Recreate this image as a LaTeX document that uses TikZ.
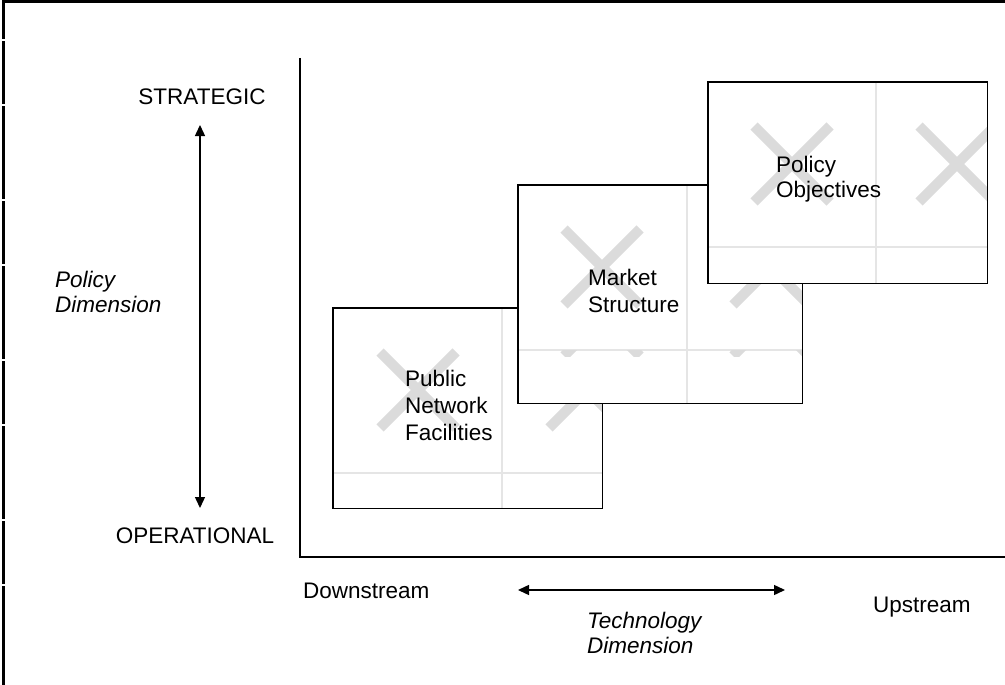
\documentclass[tikz,border=0pt]{standalone}
\usepackage{fontspec}
\setmainfont{Liberation Sans}
\usetikzlibrary{arrows.meta}

% grey cross of an empty picture frame
\newcommand{\crossmark}[1]{\draw[cross,shift={(#1)}] (-38,-38) -- (38,38) (-38,38) -- (38,-38);}

\begin{document}
\begin{tikzpicture}[x=1pt,y=-1pt]
	\tikzstyle{label}=[inner sep=0pt,font=\fontsize{22.5}{27}\selectfont,align=left]
	\tikzstyle{slanted}=[font=\fontsize{22.5}{25}\selectfont\itshape]
	\tikzstyle{panel}=[rectangle,fill=white,inner sep=0pt,anchor=north west]
	\tikzstyle{frame}=[draw=black,line width=1.8pt]
	\tikzstyle{grid}=[draw=black!10,line width=1.2pt]
	\tikzstyle{cross}=[draw=black!14,line width=10pt]
	\tikzstyle{axis}=[line width=1.8pt]
	\tikzstyle{span}=[line width=1.4pt,{Triangle[length=11pt,width=10pt]}-{Triangle[length=11pt,width=10pt]}]

	\useasboundingbox (0,0) rectangle (1005,685);
	% page frame, left and top
	\draw[line width=3pt,line join=miter] (3,685) -- (3,2) -- (1005,2);
	\foreach \g in {40,105,200,265,360,425,520,585}
		\draw[white,line width=1.5pt] (0,\g) -- (7,\g);

	% axes
	\coordinate (axis_top) at (300,58);
	\coordinate (axis_right) at (1005,557);
	\draw[axis] (axis_top) |- (axis_right);

	% policy dimension
	\node (strategic)[label,anchor=base] at (202,104) {STRATEGIC};
	\node (operational)[label,anchor=base] at (195,543) {OPERATIONAL};
	\node (policy_dim)[label,slanted,anchor=north west] at (55,271) {Policy\\Dimension};
	\coordinate (policy_up) at (200,125);
	\coordinate (policy_down) at (200,508);
	\draw[span] (policy_up) -- (policy_down);

	% technology dimension
	\node (downstream)[label,anchor=base west] at (303,598) {Downstream};
	\node (upstream)[label,anchor=base west] at (873,612) {Upstream};
	\node (tech_dim)[label,slanted,anchor=north west] at (587,612) {Technology\\Dimension};
	\coordinate (tech_left) at (518,590);
	\coordinate (tech_right) at (785,590);
	\draw[span] (tech_left) -- (tech_right);

	% public network facilities
	\node (public_box)[panel,minimum width=269pt,minimum height=200pt] at (333,308) {};
	\begin{scope}
		\clip (public_box.north west) rectangle (public_box.south east);
		\draw[grid] (502,308) -- (502,508) (333,473) -- (602,473);
		\crossmark{418,390}
		\crossmark{587,390}
	\end{scope}
	\draw[frame] (public_box.north west) rectangle (public_box.south east);
	\node (public_text)[label,anchor=north west] at (405,370) {Public\\Network\\Facilities};

	% market structure
	\node (market_box)[panel,minimum width=284pt,minimum height=218pt] at (518,185) {};
	\begin{scope}
		\clip (market_box.north west) rectangle (market_box.south east);
		\draw[grid] (687,185) -- (687,403) (518,350) -- (802,350);
		\crossmark{602,267}
		\crossmark{771,267}
	\end{scope}
	\begin{scope}
		\clip (518,350) rectangle (802,356);
		\crossmark{602,318}
		\crossmark{771,318}
	\end{scope}
	\draw[frame] (market_box.north west) rectangle (market_box.south east);
	\node (market_text)[label,anchor=north west] at (588,269) {Market\\Structure};

	% policy objectives
	\node (policy_box)[panel,minimum width=279pt,minimum height=201pt] at (708,82) {};
	\begin{scope}
		\clip (policy_box.north west) rectangle (policy_box.south east);
		\draw[grid] (876,82) -- (876,283) (708,247) -- (987,247);
		\crossmark{792,164}
		\crossmark{957,164}
	\end{scope}
	\draw[frame] (policy_box.north west) rectangle (policy_box.south east);
	\node (policy_text)[label,anchor=north west,font=\fontsize{22.5}{25}\selectfont] at (776,156) {Policy\\Objectives};

\end{tikzpicture}
\end{document}
